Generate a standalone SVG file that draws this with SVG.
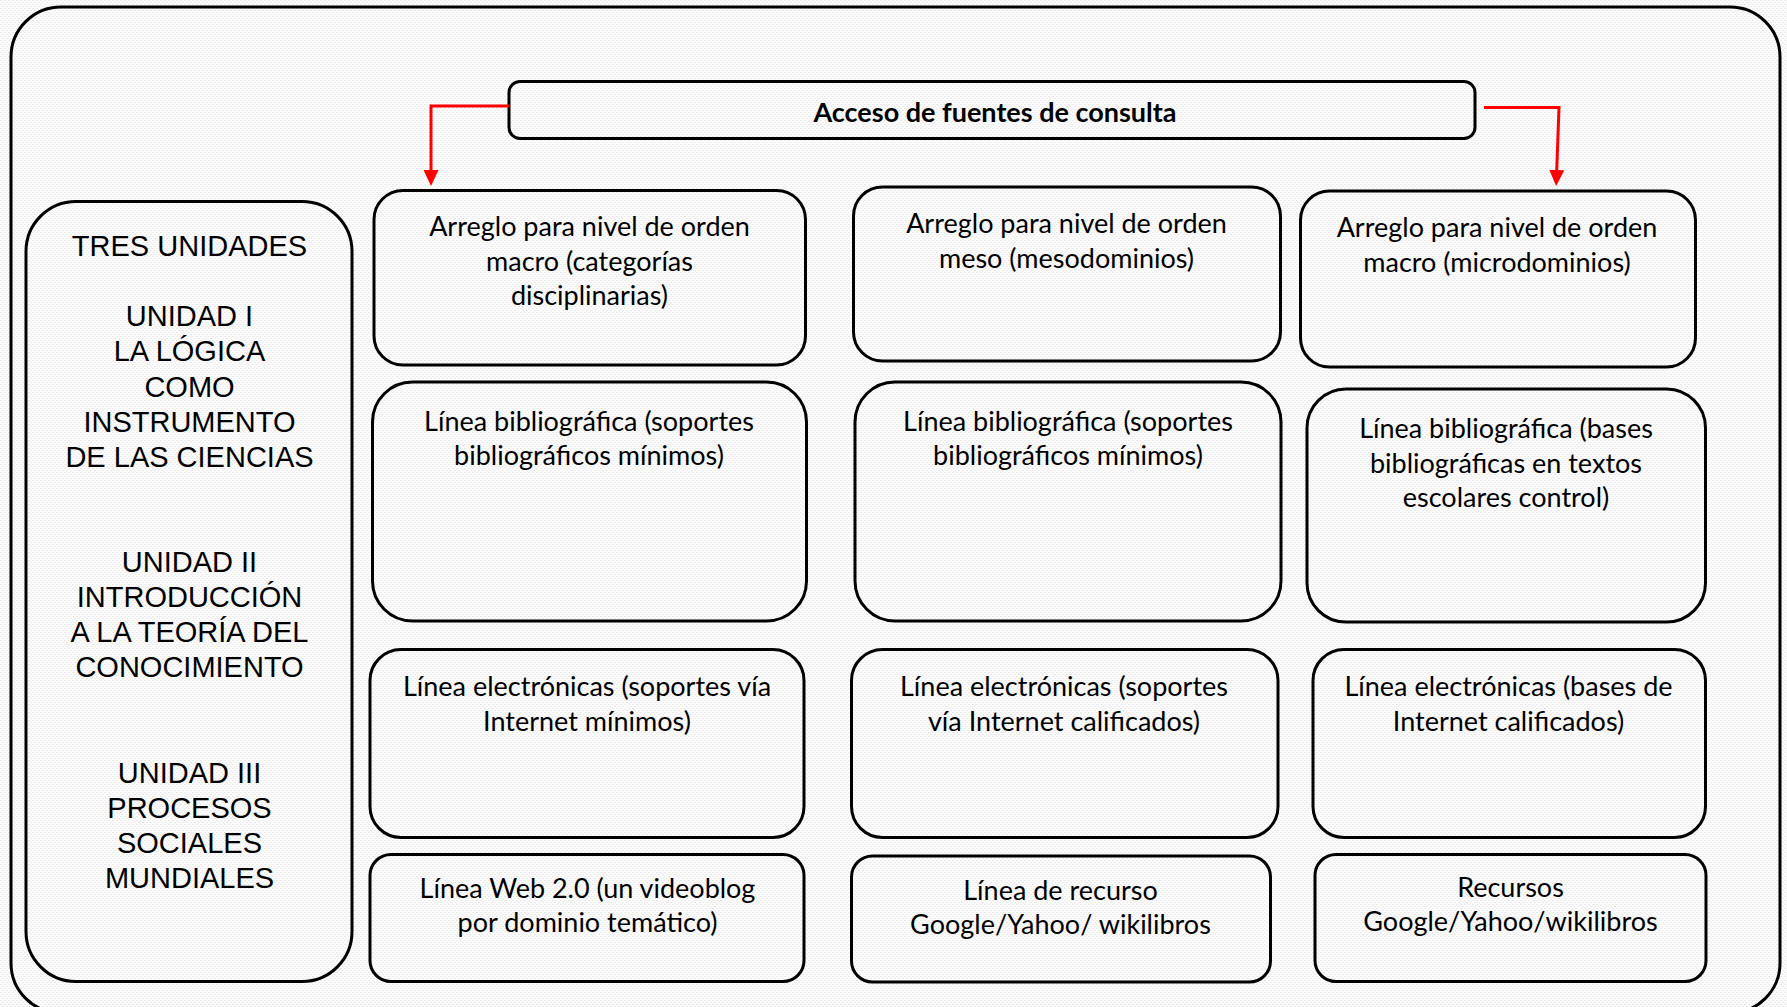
<svg xmlns="http://www.w3.org/2000/svg" width="1787" height="1007" viewBox="0 0 1787 1007">
<defs>
<pattern id="bg" width="4" height="4" patternUnits="userSpaceOnUse">
<rect width="4" height="4" fill="#fbfbfb"/>
<rect x="0" y="0" width="2" height="1" fill="#ececec"/>
<rect x="2" y="2" width="2" height="1" fill="#ececec"/>
</pattern>
<marker id="arr" viewBox="0 0 16 15" refX="6" refY="7.5" markerWidth="16" markerHeight="15" markerUnits="userSpaceOnUse" orient="auto">
<path d="M0,0 L16,7.5 L0,15 Z" fill="#ff0000"/>
</marker>
<style>
.box{fill:none;stroke:#000;stroke-width:3}
.frame{fill:none;stroke:#000;stroke-width:3}
.conn{fill:none;stroke:#ff0000;stroke-width:3}
.u{font-family:"Liberation Sans",Arial,sans-serif;font-size:29px;fill:#000;text-anchor:middle}
.t{font-family:Lato,"Open Sans",sans-serif;font-size:27px;fill:#000;text-anchor:middle}
.h{font-family:Lato,"Open Sans",sans-serif;font-size:27px;font-weight:bold;fill:#000;text-anchor:middle}
</style>
</defs>
<rect width="1787" height="1007" fill="url(#bg)"/>
<rect class="frame" x="11" y="7" width="1769" height="1006" rx="50" ry="50"/>

<g id="header">
<rect class="box" x="509" y="81.5" width="966" height="57" rx="11" ry="11"/>
<text class="h" x="995" y="122">Acceso de fuentes de consulta</text>
</g>

<g id="connectors">
<path class="conn" d="M509,106 H431 V176" marker-end="url(#arr)"/>
<path class="conn" d="M1484,107.5 H1559 L1556.5,176" marker-end="url(#arr)"/>
</g>

<g id="unidades">
<rect class="box" x="26" y="201.5" width="326" height="780" rx="50" ry="50"/>
<text class="u" x="189.5" y="256">TRES UNIDADES</text>
<text class="u" x="189.5" y="326">UNIDAD I</text>
<text class="u" x="189.5" y="361">LA LÓGICA</text>
<text class="u" x="189.5" y="396.5">COMO</text>
<text class="u" x="189.5" y="431.5">INSTRUMENTO</text>
<text class="u" x="189.5" y="466.5">DE LAS CIENCIAS</text>
<text class="u" x="189.5" y="572">UNIDAD II</text>
<text class="u" x="189.5" y="607">INTRODUCCIÓN</text>
<text class="u" x="189.5" y="642">A LA TEORÍA DEL</text>
<text class="u" x="189.5" y="677">CONOCIMIENTO</text>
<text class="u" x="189.5" y="782.5">UNIDAD III</text>
<text class="u" x="189.5" y="817.5">PROCESOS</text>
<text class="u" x="189.5" y="852.5">SOCIALES</text>
<text class="u" x="189.5" y="888">MUNDIALES</text>
</g>

<g id="a1">
<rect class="box" x="374" y="190.5" width="431.5" height="174.5" rx="29" ry="29"/>
<text class="t" x="589.5" y="236">Arreglo para nivel de orden</text>
<text class="t" x="589.5" y="270.5">macro (categorías</text>
<text class="t" x="589.5" y="305">disciplinarias)</text>
</g>
<g id="b1">
<rect class="box" x="853.5" y="187" width="427" height="174" rx="29" ry="29"/>
<text class="t" x="1066.5" y="233">Arreglo para nivel de orden</text>
<text class="t" x="1066.5" y="267.5">meso (mesodominios)</text>
</g>
<g id="c1">
<rect class="box" x="1300.5" y="191" width="395" height="176" rx="29" ry="29"/>
<text class="t" x="1497" y="237">Arreglo para nivel de orden</text>
<text class="t" x="1497" y="271.5">macro (microdominios)</text>
</g>

<g id="a2">
<rect class="box" x="372.5" y="382" width="434" height="239" rx="40" ry="40"/>
<text class="t" x="589" y="431">Línea bibliográfica (soportes</text>
<text class="t" x="589" y="465">bibliográficos mínimos)</text>
</g>
<g id="b2">
<rect class="box" x="855" y="382" width="426" height="239" rx="40" ry="40"/>
<text class="t" x="1068" y="431">Línea bibliográfica (soportes</text>
<text class="t" x="1068" y="465">bibliográficos mínimos)</text>
</g>
<g id="c2">
<rect class="box" x="1307" y="389" width="398.5" height="233" rx="39" ry="39"/>
<text class="t" x="1506" y="438">Línea bibliográfica (bases</text>
<text class="t" x="1506" y="472.5">bibliográficas en textos</text>
<text class="t" x="1506" y="507">escolares control)</text>
</g>

<g id="a3">
<rect class="box" x="370" y="649.5" width="434" height="188" rx="31" ry="31"/>
<text class="t" x="587" y="696">Línea electrónicas (soportes vía</text>
<text class="t" x="587" y="730.5">Internet mínimos)</text>
</g>
<g id="b3">
<rect class="box" x="851.5" y="649.5" width="426.5" height="188" rx="31" ry="31"/>
<text class="t" x="1064" y="696">Línea electrónicas (soportes</text>
<text class="t" x="1064" y="730.5">vía Internet calificados)</text>
</g>
<g id="c3">
<rect class="box" x="1313" y="649.5" width="392.5" height="188" rx="31" ry="31"/>
<text class="t" x="1508.5" y="696">Línea electrónicas (bases de</text>
<text class="t" x="1508.5" y="730.5">Internet calificados)</text>
</g>

<g id="a4">
<rect class="box" x="370" y="854.5" width="434" height="127" rx="21" ry="21"/>
<text class="t" x="587.5" y="898">Línea Web 2.0 (un videoblog</text>
<text class="t" x="587.5" y="932">por dominio temático)</text>
</g>
<g id="b4">
<rect class="box" x="851.5" y="856" width="419" height="126" rx="21" ry="21"/>
<text class="t" x="1060.5" y="900">Línea de recurso</text>
<text class="t" x="1060.5" y="934">Google/Yahoo/ wikilibros</text>
</g>
<g id="c4">
<rect class="box" x="1315" y="854.5" width="391" height="127" rx="21" ry="21"/>
<text class="t" x="1510.5" y="897">Recursos</text>
<text class="t" x="1510.5" y="931">Google/Yahoo/wikilibros</text>
</g>
</svg>
